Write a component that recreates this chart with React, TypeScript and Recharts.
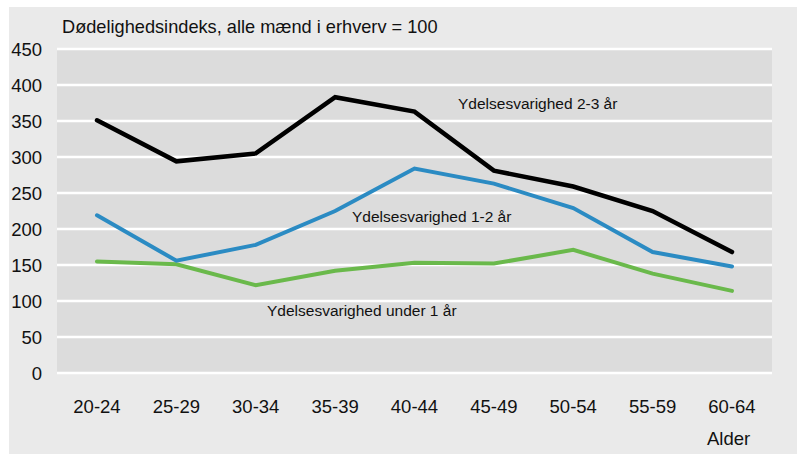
import { LineChart, Line, XAxis, YAxis, CartesianGrid } from 'recharts';

// Aldersgrupper
const ages = ['20-24', '25-29', '30-34', '35-39', '40-44', '45-49', '50-54', '55-59', '60-64'];

// Dødelighedsindeks pr. ydelsesvarighed (alle mænd i erhverv = 100)
const under1 = [155, 151, 122, 142, 153, 152, 171, 138, 114];
const oneToTwo = [219, 156, 178, 225, 284, 263, 229, 168, 148];
const twoToThree = [351, 294, 305, 383, 363, 281, 259, 225, 168];

const yTicks = [0, 50, 100, 150, 200, 250, 300, 350, 400, 450];

const data = ages.map((age, i) => ({
  age,
  under1: under1[i],
  oneToTwo: oneToTwo[i],
  twoToThree: twoToThree[i],
}));

const font = '"Liberation Sans", Arial, sans-serif';

const labelStyle = {
  position: 'absolute' as const,
  fontFamily: font,
  fontSize: 15.5,
  lineHeight: '18px',
  color: '#111',
  whiteSpace: 'nowrap' as const,
};

export default function App() {
  return (
    <div style={{ position: 'absolute', left: 0, top: 0, width: 797, height: 454, background: '#fff' }}>
      <div style={{ position: 'absolute', left: 9, top: 7, width: 788, height: 447, background: '#eaeaea' }} />
      <LineChart
        width={797}
        height={454}
        data={data}
        margin={{ top: 49, right: 25, bottom: 0, left: 0 }}
        style={{ position: 'absolute', left: 0, top: 0 }}
      >
        <CartesianGrid vertical={false} stroke="#fff" strokeWidth={2.5} fill="#dcdcdc" fillOpacity={1} />
        <XAxis
          dataKey="age"
          height={81}
          padding={{ left: 40, right: 40 }}
          axisLine={false}
          tickLine={false}
          tickSize={0}
          tickMargin={27}
          interval={0}
          tick={{ fill: '#111', fontSize: 18.5, fontFamily: font }}
        />
        <YAxis
          width={57}
          domain={[0, 450]}
          ticks={yTicks}
          interval={0}
          axisLine={false}
          tickLine={false}
          tickSize={0}
          tickMargin={15}
          tick={{ fill: '#111', fontSize: 18.5, fontFamily: font }}
        />
        <Line dataKey="under1" stroke="#6ab94b" strokeWidth={4} dot={false} strokeLinecap="round" isAnimationActive={false} />
        <Line dataKey="oneToTwo" stroke="#2b8bc3" strokeWidth={4} dot={false} strokeLinecap="round" isAnimationActive={false} />
        <Line dataKey="twoToThree" stroke="#000" strokeWidth={4.5} dot={false} strokeLinecap="round" isAnimationActive={false} />
      </LineChart>
      <div style={{ ...labelStyle, left: 62, top: 16, fontSize: 18.2, lineHeight: '22px' }}>
        Dødelighedsindeks, alle mænd i erhverv = 100
      </div>
      <div style={{ ...labelStyle, left: 458, top: 95 }}>Ydelsesvarighed 2-3 år</div>
      <div style={{ ...labelStyle, left: 352, top: 208 }}>Ydelsesvarighed 1-2 år</div>
      <div style={{ ...labelStyle, left: 267, top: 302 }}>Ydelsesvarighed under 1 år</div>
      <div style={{ ...labelStyle, left: 707, top: 428, fontSize: 18.5, lineHeight: '22px' }}>Alder</div>
    </div>
  );
}
